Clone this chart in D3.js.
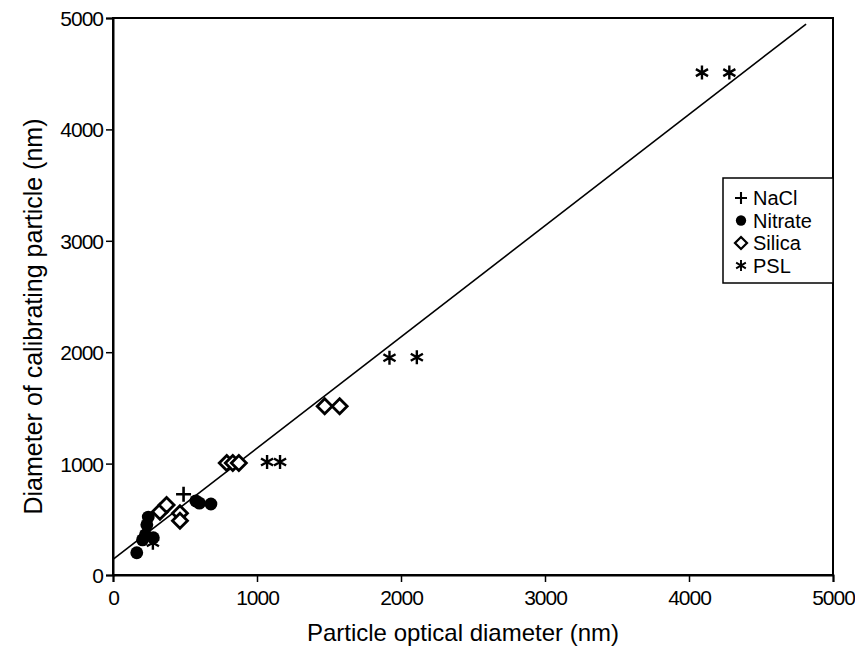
<!DOCTYPE html>
<meta charset="utf-8">
<script src="https://d3js.org/d3.v7.min.js"></script>
<style>
  body { margin: 0; background: #fff; }
  text { font-family: "Liberation Sans", Arial, sans-serif; fill: #000; }
</style>
<div id="chart"></div>
<script>
// data (nm)
var naclX = [490];
var naclY = [725];
var nitrateX = [165, 205, 225, 235, 245, 280, 575, 600, 680];
var nitrateY = [200, 315, 360, 450, 520, 335, 665, 645, 637];
var silicaX = [326, 372, 465, 465, 790, 832, 874, 1470, 1574];
var silicaY = [568, 628, 554, 487, 1005, 1005, 1005, 1515, 1515];
var pslX = [277, 1070, 1160, 1920, 2110, 4090, 4280];
var pslY = [290, 1015, 1015, 1950, 1955, 4510, 4510];
// linear fit
var fitSlope = 0.9985, fitIntercept = 140;
var fitRange = [0, 4813];
var ticks = [0, 1000, 2000, 3000, 4000, 5000];
var seriesNames = ["NaCl", "Nitrate", "Silica", "PSL"];

var W = 855, H = 652;
var margin = {top: 18, right: 22, bottom: 77, left: 113};
var width = W - margin.left - margin.right,
    height = H - margin.top - margin.bottom;

var svg = d3.select("#chart").append("svg")
    .attr("width", W).attr("height", H);
var g = svg.append("g")
    .attr("transform", "translate(" + margin.left + "," + margin.top + ")");

var x = d3.scaleLinear().domain([0, 5000]).range([0, width]);
var y = d3.scaleLinear().domain([0, 5000]).range([height, 0]);

// frame
g.append("rect")
    .attr("width", width).attr("height", height)
    .attr("fill", "none").attr("stroke", "#000").attr("stroke-width", 2);

// axes
var xAxis = g.append("g")
    .attr("transform", "translate(0," + height + ")")
    .call(d3.axisBottom(x).tickValues(ticks).tickSize(7).tickPadding(8).tickFormat(d3.format("d")));
var yAxis = g.append("g")
    .call(d3.axisLeft(y).tickValues(ticks).tickSize(7).tickPadding(3).tickFormat(d3.format("d")));
[xAxis, yAxis].forEach(function(a) {
  a.select(".domain").attr("stroke-width", 2);
  a.selectAll(".tick line").attr("stroke-width", 1.5);
  a.selectAll("text").style("font-size", "21px")
    .style("letter-spacing", "-1px")
    .style("font-family", '"Liberation Sans", Arial, sans-serif');
});
yAxis.selectAll("text").attr("dy", "0.36em");

// axis titles
svg.append("text")
    .attr("x", margin.left + width / 2 - 10).attr("y", 641)
    .attr("text-anchor", "middle").style("font-size", "24px")
    .text("Particle optical diameter (nm)");
svg.append("text")
    .attr("transform", "translate(42," + (margin.top + height / 2 + 20) + ") rotate(-90)")
    .attr("text-anchor", "middle").style("font-size", "25px")
    .text("Diameter of calibrating particle (nm)");

// fit line
g.append("line")
    .attr("x1", x(fitRange[0])).attr("y1", y(fitIntercept + fitSlope * fitRange[0]))
    .attr("x2", x(fitRange[1])).attr("y2", y(fitIntercept + fitSlope * fitRange[1]))
    .attr("stroke", "#000").attr("stroke-width", 1.6);

// marker shapes
var plusPath = "M-7.5,0H7.5M0,-7.5V7.5";
var starPath = (function() {
  var r = 7, p = "";
  [90, 30, 150].forEach(function(a) {
    var c = Math.cos(a * Math.PI / 180) * r, s = Math.sin(a * Math.PI / 180) * r;
    p += "M" + (-c) + "," + (-s) + "L" + c + "," + s;
  });
  return p;
})();
var circlePath = d3.symbol(d3.symbolCircle, 130)();
var diamondPath = "M0,-7.5L7.5,0L0,7.5L-7.5,0Z";

function zip(xs, ys) { return xs.map(function(v, i) { return [v, ys[i]]; }); }

function drawSeries(data, path, fill, stroke, sw) {
  g.append("g").selectAll("path").data(data).enter().append("path")
    .attr("d", path)
    .attr("transform", function(d) { return "translate(" + x(d[0]) + "," + y(d[1]) + ")"; })
    .attr("fill", fill).attr("stroke", stroke).attr("stroke-width", sw);
}
drawSeries(zip(silicaX, silicaY), diamondPath, "#fff", "#000", 2.8);
drawSeries(zip(nitrateX, nitrateY), circlePath, "#000", "none", 0);
drawSeries(zip(naclX, naclY), plusPath, "none", "#000", 2.6);
drawSeries(zip(pslX, pslY), starPath, "none", "#000", 2.4);

// legend
var leg = svg.append("g").attr("transform", "translate(723,178)");
leg.append("rect").attr("width", 110).attr("height", 105)
    .attr("fill", "#fff").attr("stroke", "#000").attr("stroke-width", 1.5);
var legPaths = [plusPath, circlePath, diamondPath, starPath];
var legFill = ["none", "#000", "#fff", "none"];
var legStroke = ["#000", "none", "#000", "#000"];
var legSw = [2.6, 0, 2.8, 2.4];
seriesNames.forEach(function(name, i) {
  var yy = 20 + i * 22.5;
  leg.append("path").attr("d", legPaths[i])
    .attr("transform", "translate(18," + yy + ") scale(0.8)")
    .attr("fill", legFill[i]).attr("stroke", legStroke[i]).attr("stroke-width", legSw[i]);
  leg.append("text").attr("x", 30).attr("y", yy).attr("dy", "0.36em")
    .style("font-size", "20px").text(name);
});
</script>
